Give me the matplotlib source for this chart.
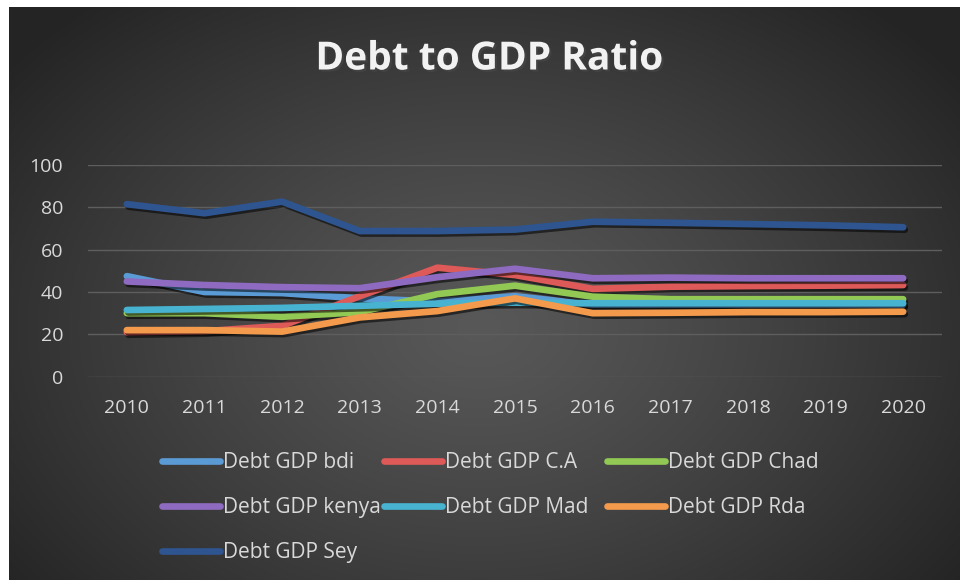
import numpy as np
import matplotlib
matplotlib.use('Agg')
import matplotlib.pyplot as plt
import matplotlib.patheffects as pe
from matplotlib.lines import Line2D

years = ['2010', '2011', '2012', '2013', '2014', '2015', '2016', '2017', '2018', '2019', '2020']
debt_bdi   = [47.5, 40.0, 39.5, 37.0, 35.5, 38.0, 34.0, 34.0, 34.0, 34.0, 34.0]
debt_ca    = [21.0, 21.5, 24.0, 38.0, 51.5, 48.0, 41.5, 42.5, 42.8, 43.0, 43.3]
debt_chad  = [30.0, 30.0, 28.3, 30.5, 39.0, 43.0, 37.8, 36.6, 36.6, 36.6, 36.6]
debt_kenya = [45.0, 43.3, 42.3, 41.8, 47.0, 51.0, 46.5, 46.8, 46.5, 46.5, 46.5]
debt_mad   = [31.5, 32.0, 32.5, 33.5, 34.5, 35.0, 34.7, 34.7, 34.7, 34.7, 34.7]
debt_rda   = [22.0, 22.0, 21.3, 28.0, 31.0, 37.0, 30.0, 30.2, 30.5, 30.5, 30.7]
debt_sey   = [81.5, 77.2, 82.7, 68.8, 68.8, 69.5, 73.2, 72.7, 72.1, 71.5, 70.6]

labels = ['Debt GDP bdi', 'Debt GDP C.A', 'Debt GDP Chad', 'Debt GDP kenya',
          'Debt GDP Mad', 'Debt GDP Rda', 'Debt GDP Sey']
series = [debt_bdi, debt_ca, debt_chad, debt_kenya, debt_mad, debt_rda, debt_sey]
colors = ['#5B9BD5', '#DD5A58', '#92C955', '#8E6BC0', '#48B3D1', '#F39A4C', '#2E5590']
yticks = [0, 20, 40, 60, 80, 100]

FONT = ['Open Sans', 'DejaVu Sans']
TXT = '#d9d9d9'
W, H = 960, 580

fig = plt.figure(figsize=(9.6, 5.8), dpi=100, facecolor='white')

# background radial gradient
bg = fig.add_axes([9 / W, 0, 951 / W, 573 / H])
yy, xx = np.mgrid[0:573, 0:951]
r = np.sqrt(((xx - 470) / 600.0) ** 2 + ((yy - 320) / 430.0) ** 2)
r = np.clip(r, 0, 1)
c0, c1 = 0x58 / 255, 0x24 / 255
val = c0 + (c1 - c0) * r ** 1.2
bg.imshow(np.dstack([val, val, val]), aspect='auto', interpolation='bilinear')
bg.axis('off')

ax = fig.add_axes([88 / W, 1 - 376.7 / H, (942 - 88) / W, (376.7 - 165) / H])
ax.set_facecolor('none')
x = np.arange(len(years))
shadow = [pe.SimpleLineShadow(offset=(1.2, -1.8), shadow_color='black', alpha=0.55), pe.Normal()]
for vals, c in zip(series, colors):
    ax.plot(x, vals, color=c, lw=4.8, solid_capstyle='round', solid_joinstyle='round',
            path_effects=shadow, zorder=3)

ax.set_xlim(-0.5, len(years) - 0.5)
ax.set_ylim(0, 100)
ax.set_xticks(x)
ax.set_xticklabels(years)
ax.set_yticks(yticks)
ax.set_yticklabels([str(v) for v in yticks])
for s in ax.spines.values():
    s.set_visible(False)
ax.grid(axis='y', color='#5e5e5e', lw=1)
ax.set_axisbelow(True)
ax.tick_params(axis='both', length=0, colors=TXT, labelsize=14)
ax.tick_params(axis='x', pad=16)
ax.tick_params(axis='y', pad=18)
for lab in ax.get_xticklabels() + ax.get_yticklabels():
    lab.set_family(FONT)

fig.text(489 / W, 1 - 59 / H, 'Debt to GDP Ratio', ha='center', va='center',
         fontsize=28, fontweight='bold', color='#f2f2f2', family=FONT,
         path_effects=[pe.SimplePatchShadow(offset=(1.5, -1.5), alpha=0.6), pe.Normal()])

# legend: three columns laid out row-wise like the reference
col_x = [162, 384, 607]
cols = [[0, 3, 6], [1, 4], [2, 5]]
for cx, idxs in zip(col_x, cols):
    hs = [Line2D([0], [0], color=colors[i], lw=4.8, solid_capstyle='round') for i in idxs]
    ls = [labels[i] for i in idxs]
    leg = fig.legend(hs, ls, loc='upper left', bbox_to_anchor=(cx / W, 1 - 452 / H),
                     frameon=False, borderpad=0, borderaxespad=0, handlelength=2.8,
                     handletextpad=0.12, labelspacing=1.15,
                     prop={'family': FONT, 'size': 15})
    for t in leg.get_texts():
        t.set_color(TXT)

fig.savefig('out.png', dpi=100, facecolor='white')
